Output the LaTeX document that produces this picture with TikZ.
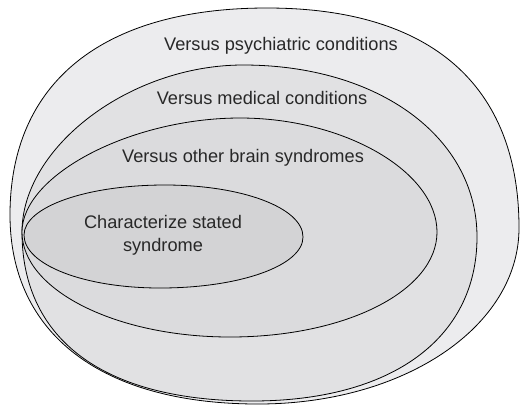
\documentclass[tikz,border=0pt]{standalone}
\usepackage{fontspec}
\setmainfont{Liberation Sans}
\definecolor{fillA}{RGB}{236,236,238}
\definecolor{fillB}{RGB}{225,225,227}
\definecolor{fillC}{RGB}{219,219,221}
\definecolor{fillD}{RGB}{211,211,213}
\definecolor{txt}{RGB}{40,40,40}
\tikzset{
  region/.style={draw=black,line width=0.8bp},
  lbl/.style={font=\fontsize{18.2bp}{22.5bp}\selectfont,text=txt,inner sep=0pt,anchor=base,align=center}
}
\begin{document}
\begin{tikzpicture}[x=1bp,y=-1bp]
\useasboundingbox (0,0) rectangle (520,405);
% outer: psychiatric
\path[region,fill=fillA] (10,215)
  .. controls (10,82.5) and (102.5,8) .. (267,8)
  .. controls (430.8,8) and (519,85) .. (519,228)
  .. controls (519,326.6) and (404.2,404) .. (258,404)
  .. controls (101.8,404) and (10,334) .. cycle;
% medical
\path[region,fill=fillB] (22,232)
  .. controls (22,146.8) and (130.3,65) .. (243,65)
  .. controls (378.7,65) and (477,137.2) .. (477,237)
  .. controls (477,338.7) and (391.5,401) .. (252,401)
  .. controls (104.8,401) and (22,340.2) .. cycle;
% other brain
\path[region,fill=fillC] (22,232)
  .. controls (22,175) and (131,118) .. (240,118)
  .. controls (344.4,118) and (437,171.6) .. (437,232)
  .. controls (437,290.8) and (345.9,337) .. (230,337)
  .. controls (115.6,337) and (22,289.75) .. cycle;
% inner
\path[region,fill=fillD] (24,235)
  .. controls (24,207) and (86,185) .. (165,185)
  .. controls (242.3,185) and (303,207.9) .. (303,237)
  .. controls (303,265.6) and (240,288) .. (160,288)
  .. controls (83.8,288) and (24,264.7) .. cycle;
\node[lbl] (psy) at (281,50) {Versus psychiatric conditions};
\node[lbl] (med) at (262,104) {Versus medical conditions};
\node[lbl] (oth) at (243,162) {Versus other brain syndromes};
\node[lbl] (ch1) at (163,228) {Characterize stated};
\node[lbl] (ch2) at (163,251) {syndrome};
\end{tikzpicture}
\end{document}
